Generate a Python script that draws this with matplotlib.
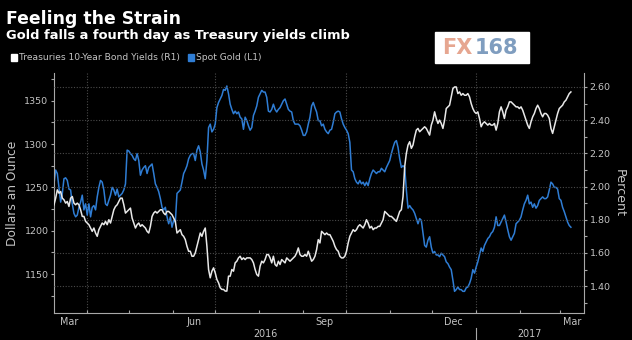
import numpy as np
import pandas as pd
import matplotlib
matplotlib.use("Agg")
import matplotlib.pyplot as plt
import matplotlib.dates as mdates
from matplotlib.patches import Rectangle
from matplotlib.ticker import MultipleLocator, FixedLocator
from matplotlib.transforms import blended_transform_factory

plt.rcParams["font.family"] = ["DejaVu Sans"]

# Spot gold, $/oz, evenly spaced samples from 2016-03-09 to 2017-03-09
gold = [
    1254, 1270, 1266, 1250, 1233, 1243, 1260, 1261, 1258, 1248, 1247, 1231, 1220, 1216, 1218, 1227,
    1233, 1241, 1224, 1231, 1218, 1231, 1216, 1227, 1229, 1224, 1239, 1250, 1258, 1256, 1247, 1231,
    1229, 1235, 1241, 1250, 1247, 1241, 1248, 1239, 1241, 1243, 1247, 1254, 1293, 1292, 1289, 1287,
    1283, 1281, 1289, 1281, 1264, 1270, 1273, 1275, 1266, 1273, 1275, 1277, 1266, 1254, 1250, 1245,
    1237, 1227, 1224, 1227, 1216, 1208, 1216, 1204, 1212, 1210, 1243, 1245, 1247, 1256, 1266, 1270,
    1275, 1283, 1287, 1289, 1289, 1281, 1293, 1298, 1291, 1277, 1270, 1260, 1281, 1319, 1323, 1314,
    1317, 1323, 1342, 1348, 1352, 1356, 1363, 1362, 1367, 1358,
    1346, 1340, 1335, 1338, 1335, 1337, 1331, 1329, 1317, 1331, 1327, 1321, 1316, 1319, 1333, 1338,
    1344, 1354, 1358, 1362, 1360, 1360, 1354, 1338, 1337, 1340, 1346, 1340, 1337, 1340, 1342, 1346,
    1350, 1352, 1346, 1340, 1338, 1337, 1327, 1323, 1323, 1323, 1321, 1316, 1310, 1310, 1314, 1323,
    1331, 1344, 1348, 1342, 1337, 1327, 1327, 1321, 1323, 1317, 1314, 1312, 1316, 1317, 1325, 1335,
    1337, 1338, 1337, 1329, 1323, 1319, 1316, 1312, 1302, 1270, 1268, 1260, 1256, 1254, 1258, 1254,
    1256, 1252, 1256, 1252, 1260, 1266, 1270, 1268, 1266, 1268, 1268, 1272, 1270, 1268, 1273, 1277,
    1281, 1289, 1296, 1302, 1304, 1296, 1283, 1273, 1275,
    1273, 1247, 1226, 1229, 1226, 1224, 1220, 1214, 1208, 1214, 1212, 1197, 1183, 1181, 1189, 1193,
    1181, 1174, 1176, 1172, 1172, 1170, 1174, 1172, 1170, 1164, 1162, 1158, 1155, 1143, 1130, 1132,
    1135, 1132, 1132, 1130, 1130, 1134, 1135, 1139, 1145, 1155, 1151, 1158, 1164, 1172, 1180, 1176,
    1183, 1187, 1191, 1193, 1197, 1199, 1204, 1216, 1206, 1206, 1210, 1214, 1218, 1210, 1201, 1193,
    1189, 1193, 1197, 1208, 1210, 1212, 1216, 1224, 1231, 1235, 1241, 1231, 1233, 1227, 1231, 1226,
    1229, 1235, 1237, 1239, 1237, 1237, 1239, 1247, 1256, 1254, 1250, 1250, 1248, 1237, 1235, 1227,
    1222, 1216, 1210, 1206, 1204,
]

# US 10-year Treasury yield, percent, same sampling
yields = [
    1.89, 1.93, 1.98, 1.96, 1.97, 1.93, 1.92, 1.90, 1.91, 1.88, 1.93, 1.94, 1.90, 1.89, 1.90, 1.89,
    1.86, 1.82, 1.82, 1.79, 1.78, 1.77, 1.75, 1.73, 1.75, 1.72, 1.70, 1.74, 1.76, 1.78, 1.77, 1.79,
    1.77, 1.80, 1.78, 1.82, 1.86, 1.88, 1.89, 1.91, 1.93, 1.93, 1.89, 1.84, 1.85, 1.86, 1.87, 1.81,
    1.78, 1.75, 1.77, 1.78, 1.76, 1.77, 1.76, 1.75, 1.73, 1.72, 1.76, 1.82, 1.84, 1.85, 1.84, 1.85,
    1.86, 1.86, 1.84, 1.83, 1.85, 1.85, 1.84, 1.83, 1.81, 1.79, 1.72, 1.73, 1.74, 1.71, 1.70, 1.68,
    1.64, 1.61, 1.61, 1.58, 1.58, 1.60, 1.64, 1.68, 1.72, 1.70, 1.73, 1.75, 1.64, 1.50, 1.45, 1.49,
    1.51, 1.48, 1.44, 1.42, 1.39, 1.38, 1.38, 1.37, 1.37, 1.46,
    1.46, 1.50, 1.49, 1.54, 1.55, 1.57, 1.58, 1.56, 1.57, 1.56, 1.57, 1.57, 1.57, 1.56, 1.54, 1.50,
    1.47, 1.46, 1.52, 1.55, 1.54, 1.56, 1.59, 1.59, 1.57, 1.54, 1.58, 1.53, 1.52, 1.55, 1.53, 1.56,
    1.55, 1.54, 1.57, 1.56, 1.55, 1.56, 1.57, 1.58, 1.60, 1.63, 1.59, 1.58, 1.58, 1.59, 1.58, 1.61,
    1.58, 1.55, 1.56, 1.58, 1.62, 1.68, 1.66, 1.73, 1.72, 1.71, 1.72, 1.71, 1.71, 1.69, 1.67, 1.64,
    1.62, 1.61, 1.58, 1.57, 1.57, 1.58, 1.61, 1.66, 1.70, 1.72, 1.74, 1.73, 1.74, 1.76, 1.77, 1.76,
    1.75, 1.77, 1.80, 1.78, 1.75, 1.76, 1.74, 1.75, 1.75, 1.76, 1.76, 1.78, 1.80, 1.85, 1.84, 1.83,
    1.82, 1.82, 1.81, 1.80, 1.79, 1.82, 1.85, 1.86, 1.94,
    2.12, 2.20, 2.25, 2.27, 2.23, 2.25, 2.30, 2.34, 2.35, 2.33, 2.34, 2.35, 2.36, 2.35, 2.33, 2.31,
    2.37, 2.40, 2.45, 2.41, 2.38, 2.40, 2.38, 2.35, 2.40, 2.47, 2.48, 2.49, 2.54, 2.59, 2.60, 2.60,
    2.56, 2.57, 2.55, 2.56, 2.55, 2.55, 2.56, 2.54, 2.50, 2.47, 2.45, 2.44, 2.45, 2.41, 2.36, 2.38,
    2.39, 2.38, 2.37, 2.38, 2.37, 2.37, 2.38, 2.34, 2.38, 2.45, 2.48, 2.45, 2.41, 2.46, 2.48, 2.51,
    2.51, 2.50, 2.49, 2.48, 2.48, 2.47, 2.48, 2.46, 2.43, 2.40, 2.37, 2.35, 2.39, 2.42, 2.44, 2.47,
    2.49, 2.47, 2.44, 2.42, 2.44, 2.44, 2.43, 2.41, 2.35, 2.32, 2.36, 2.40, 2.44, 2.47, 2.48, 2.49,
    2.51, 2.52, 2.54, 2.56, 2.57,
]

month_labels = ["Mar", "Jun", "Sep", "Dec", "Mar"]
month_label_dates = ["2016-03-20", "2016-06-16", "2016-09-16", "2016-12-16", "2017-03-10"]
year_labels = ["2016", "2017"]
year_label_dates = ["2016-08-05", "2017-02-08"]

gold_dates = pd.date_range("2016-03-09", "2017-03-09", periods=len(gold))
yield_dates = pd.date_range("2016-03-09", "2017-03-09", periods=len(yields))

BG = "black"
GREY = "#c4c4c4"
SPINE = "#a8a8a8"
GRID = "#4a4a4a"
BLUE = "#2f7dd4"
WHITE = "#e8e8e8"

W, H = 632, 340
fig = plt.figure(figsize=(W / 100, H / 100), dpi=100, facecolor=BG)
ax = fig.add_axes([54 / W, 1 - 313 / H, 530 / W, 240 / H])
ax.set_facecolor(BG)
ax2 = ax.twinx()

ax.plot(gold_dates, gold, color=BLUE, lw=1.1)
ax2.plot(yield_dates, yields, color=WHITE, lw=1.1)

ax.set_xlim(pd.Timestamp("2016-03-09"), pd.Timestamp("2017-03-18 06:00"))
ax.set_ylim(1105, 1382)
ax2.set_ylim(1.238, 2.684)

# left axis: gold
ax.yaxis.set_major_locator(FixedLocator([1150, 1200, 1250, 1300, 1350]))
ax.yaxis.set_minor_locator(FixedLocator([1125, 1175, 1225, 1275, 1325, 1375]))
# right axis: yields, grid follows these
ax2.yaxis.set_major_locator(MultipleLocator(0.2))
ax2.yaxis.set_minor_locator(MultipleLocator(0.1))
ax2.yaxis.set_major_formatter(plt.FuncFormatter(lambda v, p: f"{v:.2f}"))
ax2.grid(axis="y", which="major", color=GRID, ls=(0, (1, 1.5)), lw=0.8)

# quarter starts carry gridlines, month starts get small ticks
ax.xaxis.set_major_locator(mdates.MonthLocator(bymonth=[1, 4, 7, 10]))
ax.xaxis.set_minor_locator(mdates.MonthLocator())
ax.xaxis.set_major_formatter(plt.NullFormatter())
ax.grid(axis="x", which="major", color=GRID, ls=(0, (1, 1.5)), lw=0.8)

for a in (ax, ax2):
    for s in a.spines.values():
        s.set_visible(False)
        s.set_color(SPINE)
ax.spines["left"].set_visible(True)
ax.spines["bottom"].set_visible(True)
ax2.spines["right"].set_visible(True)

ax.tick_params(axis="y", which="both", colors=SPINE, labelcolor=GREY, labelsize=6.8,
               length=2.5, width=0.8, pad=1.5, direction="out")
ax2.tick_params(axis="y", which="both", colors=SPINE, labelcolor=GREY, labelsize=6.8,
                length=2.5, width=0.8, pad=1.5, direction="out")
ax.tick_params(axis="x", which="both", colors=SPINE, length=2, width=0.8, direction="in")

ax.set_ylabel("Dollars an Ounce", color=GREY, fontsize=8.8, labelpad=4)
ax2.set_ylabel("Percent", color=GREY, fontsize=9.2, rotation=270, labelpad=11)

# month and year labels under the axis
tr = blended_transform_factory(ax.transData, ax.transAxes)
for lab, d in zip(month_labels, month_label_dates):
    ax.text(mdates.date2num(pd.Timestamp(d)), -0.036, lab, transform=tr, ha="center",
            va="center", color=GREY, fontsize=6.9)
for lab, d in zip(year_labels, year_label_dates):
    ax.text(mdates.date2num(pd.Timestamp(d)), -0.087, lab, transform=tr, ha="center",
            va="center", color=GREY, fontsize=6.9)
jan = mdates.date2num(pd.Timestamp("2017-01-01"))
ax.plot([jan, jan], [-0.0625, -0.12], transform=tr, color=SPINE, lw=0.8, clip_on=False)

# titles
fig.text(6 / W, 1 - 24 / H, "Feeling the Strain", color="white", fontsize=12.4,
         fontweight="bold", va="baseline")
fig.text(6 / W, 1 - 39 / H, "Gold falls a fourth day as Treasury yields climb", color="white",
         fontsize=9.4, fontweight="bold", va="baseline")

# legend
fig.patches.append(Rectangle((11 / W, 1 - 60.5 / H), 6 / W, 6 / H, transform=fig.transFigure,
                             color="white"))
fig.text(19 / W, 1 - 57.5 / H, "Treasuries 10-Year Bond Yields (R1)", color=GREY,
         fontsize=6.6, va="center")
fig.patches.append(Rectangle((188 / W, 1 - 60.5 / H), 6 / W, 6 / H, transform=fig.transFigure,
                             color=BLUE))
fig.text(196 / W, 1 - 57.5 / H, "Spot Gold (L1)", color=GREY, fontsize=6.6, va="center")

# FX168 mark
fig.patches.append(Rectangle((435 / W, 1 - 63 / H), 94 / W, 31 / H, transform=fig.transFigure,
                             color="white"))
fig.text(442 / W, 1 - 47.5 / H, "FX", color="#e6a690", fontsize=15, fontweight="bold",
         va="center")
fig.text(475 / W, 1 - 47.5 / H, "168", color="#7f9dbf", fontsize=15, fontweight="bold",
         va="center")

fig.savefig("out.png", dpi=100, facecolor=BG)
